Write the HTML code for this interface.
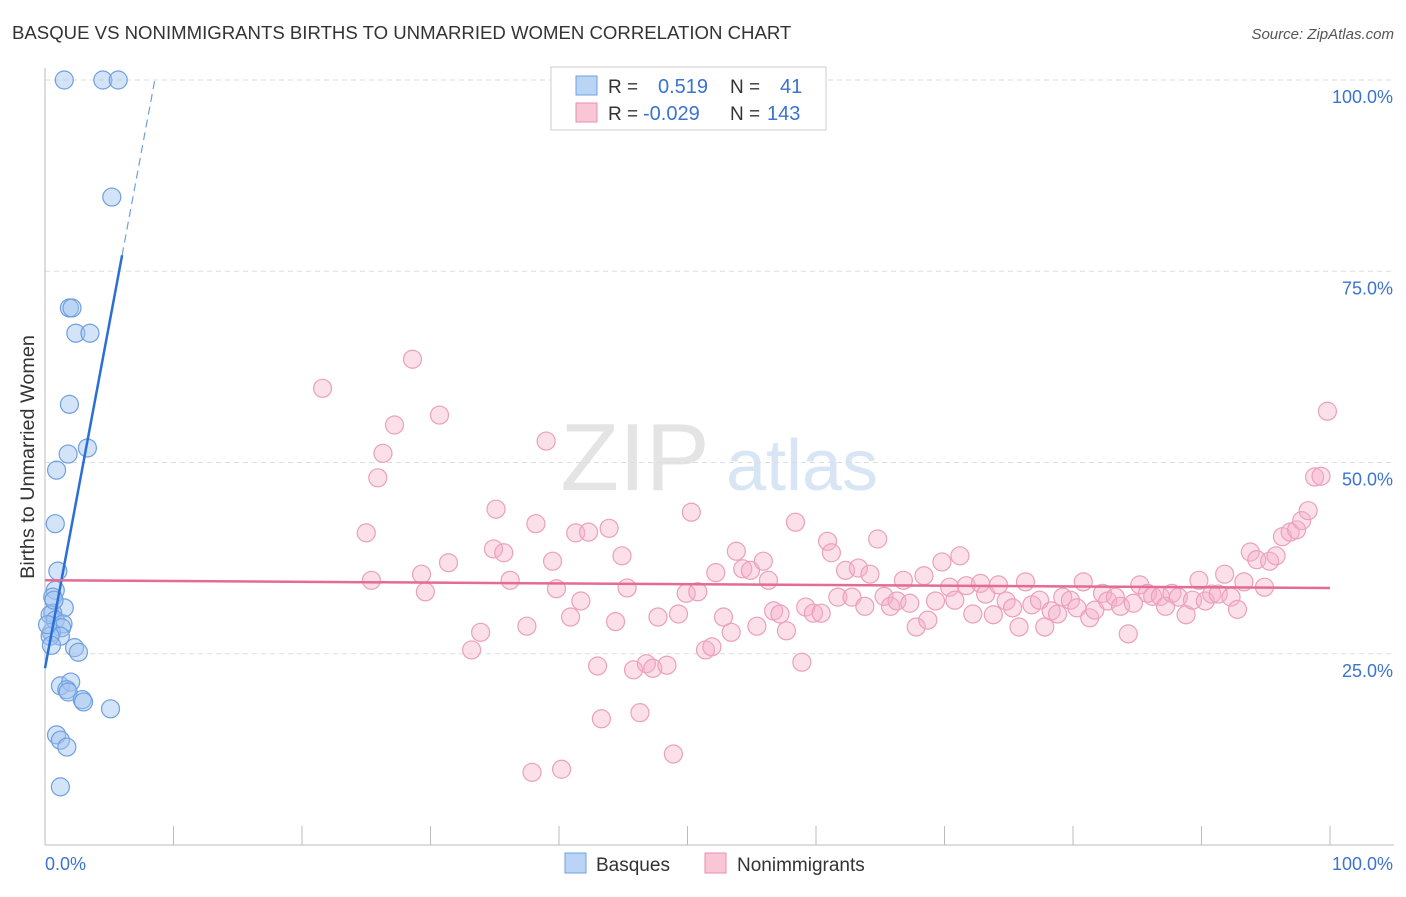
<!DOCTYPE html>
<html><head><meta charset="utf-8"><style>
body{margin:0;background:#fff;font-family:"Liberation Sans",sans-serif;}
svg text{font-family:"Liberation Sans",sans-serif;}
</style></head><body>
<svg id="chart" width="1406" height="892" xmlns="http://www.w3.org/2000/svg">
<text x="12" y="39" font-size="18.6" fill="#333">BASQUE VS NONIMMIGRANTS BIRTHS TO UNMARRIED WOMEN CORRELATION CHART</text>
<text x="1394" y="39" font-size="15" fill="#555" text-anchor="end" font-style="italic">Source: ZipAtlas.com</text>
<g>
<text x="635" y="490" font-size="96" fill="#e4e4e4" text-anchor="middle" font-family="Liberation Serif, serif">ZIP</text>
<text x="802" y="490" font-size="72" fill="#d7e5f5" text-anchor="middle">atlas</text>
</g>
<g id="grid"></g>
<g id="axes"></g>
<g id="marks"></g>
<g>
<rect x="551" y="67" width="275" height="63" fill="#fff" stroke="#ccc"/>
<rect x="576" y="76" width="21" height="19" fill="#b9d4f5" stroke="#6fa0e0"/>
<rect x="576" y="103" width="21" height="19" fill="#f9c6d6" stroke="#e98fae"/>
<text x="608" y="93" font-size="19" fill="#333">R =</text>
<text x="658" y="93" font-size="20" fill="#3b73d1">0.519</text>
<text x="730" y="93" font-size="19" fill="#333">N =</text>
<text x="780" y="93" font-size="20" fill="#3b73d1">41</text>
<text x="608" y="120" font-size="19" fill="#333">R =</text>
<text x="643" y="120" font-size="20" fill="#3b73d1">-0.029</text>
<text x="730" y="120" font-size="19" fill="#333">N =</text>
<text x="767" y="120" font-size="20" fill="#3b73d1">143</text>
</g>
<g>
<rect x="565" y="853" width="21" height="20" fill="#b9d4f5" stroke="#6fa0e0"/>
<text x="596" y="871" font-size="19" fill="#333">Basques</text>
<rect x="705" y="853" width="21" height="20" fill="#f9c6d6" stroke="#e98fae"/>
<text x="737" y="871" font-size="19" fill="#333">Nonimmigrants</text>
</g>
</svg>
<script>
const yTicks=[25,50,75,100];
const yTickLabels=["25.0%","50.0%","75.0%","100.0%"];
const xTicks=[10,20,30,40,50,60,70,80,90,100];
const blueX=[1.5,4.5,5.7,5.2,1.9,2.1,2.4,3.5,1.9,3.3,1.8,0.9,0.8,1.0,0.8,0.6,1.5,0.6,0.4,0.8,1.4,1.3,0.5,1.2,0.4,2.3,2.6,1.2,2.0,1.7,1.8,2.9,3.0,5.1,0.9,1.2,1.7,1.2,0.2,0.5,0.7];
const blueY=[100,100,100,84.7,70.2,70.2,66.9,66.9,57.6,51.9,51.1,49.0,42.0,35.8,33.3,32.4,31.0,30.3,30.1,29.4,28.9,28.4,27.8,27.3,27.3,25.8,25.2,20.8,21.3,20.3,20.0,19.0,18.7,17.8,14.4,13.7,12.8,7.6,28.8,26.1,32.0];
const pinkX=[21.6,28.6,30.7,27.2,26.3,25.9,39.0,25.0,35.1,38.2,25.4,29.3,29.6,31.4,34.9,35.7,36.2,33.2,33.9,37.5,39.5,39.8,41.7,41.3,42.3,43.9,44.9,45.3,40.9,44.4,43.0,45.8,46.8,47.3,48.4,43.3,46.3,48.9,37.9,40.2,47.7,49.3,49.9,50.3,51.4,51.9,50.8,52.2,52.8,53.4,53.8,54.3,54.9,55.4,55.9,56.3,56.7,57.2,57.7,58.4,58.9,59.2,59.8,60.4,60.9,61.2,61.7,62.3,62.8,63.3,63.8,64.2,64.8,65.3,65.8,66.3,66.8,67.3,67.8,68.4,68.7,69.3,69.8,70.4,70.8,71.2,71.7,72.2,72.8,73.2,73.8,74.2,74.8,75.3,75.8,76.3,76.8,77.4,77.8,78.3,78.8,79.2,79.8,80.3,80.8,81.3,81.7,82.3,82.7,83.3,83.7,84.3,84.7,85.2,85.8,86.2,86.8,87.2,87.7,88.2,88.8,89.3,89.8,90.3,90.8,91.3,91.8,92.3,92.8,93.3,93.8,94.3,94.9,95.3,95.8,96.3,96.9,97.4,97.8,98.3,98.8,99.3,99.8];
const pinkY=[59.7,63.5,56.2,54.9,51.2,48.0,52.8,40.8,43.9,42.0,34.6,35.4,33.1,36.9,38.7,38.2,34.6,25.5,27.8,28.6,37.1,33.5,31.9,40.8,40.9,41.4,37.8,33.6,29.8,29.2,23.4,22.9,23.7,23.1,23.5,16.5,17.3,11.9,9.5,9.9,29.8,30.2,32.9,43.5,25.5,25.9,33.1,35.6,29.8,27.8,38.4,36.1,35.9,28.6,37.1,34.6,30.6,30.2,28.0,42.2,23.9,31.1,30.3,30.3,39.7,38.2,32.4,35.9,32.4,36.2,31.2,35.4,40.0,32.5,31.2,31.9,34.6,31.6,28.5,35.2,29.4,31.9,37.0,33.7,32.0,37.8,33.9,30.2,34.2,32.8,30.1,34.0,31.9,31.0,28.5,34.4,31.4,32.0,28.5,30.6,30.2,32.4,32.0,31.0,34.4,29.7,30.7,32.9,31.9,32.4,31.2,27.6,31.6,34.0,32.9,32.5,32.5,31.2,32.9,32.4,30.1,32.0,34.6,31.9,32.8,32.8,35.4,32.4,30.8,34.4,38.3,37.3,33.7,37.1,37.8,40.3,40.9,41.2,42.4,43.7,48.1,48.2,56.7];
const blueTrend=[23.1,9.0]; // intercept, slope
const pinkTrend=[34.6,33.6]; // y at x=0, y at x=100
const NS="http://www.w3.org/2000/svg";
const X=v=>45+v*12.85, Y=v=>845-v*7.65;
function mk(tag,attrs,parent){const e=document.createElementNS(NS,tag);for(const k in attrs)e.setAttribute(k,attrs[k]);document.getElementById(parent).appendChild(e);return e;}
yTicks.forEach((t,i)=>{
 const g=mk('line',{x1:45,x2:1394,y1:Y(t),y2:Y(t),stroke:'#ddd','stroke-dasharray':'5,4'},'grid');
 
 
 const l=mk('text',{x:1393,y:Y(t)+23,'font-size':18,fill:'#3b73d1','text-anchor':'end'},'grid');
 l.textContent=yTickLabels[i];
 
 
});
const ax=mk('line',{x1:45,x2:45,y1:68,y2:845,stroke:'#bbb'},'axes');


const bx=mk('line',{x1:45,x2:1394,y1:845,y2:845,stroke:'#bbb'},'axes');


xTicks.forEach(t=>{const e=mk('line',{x1:X(t),x2:X(t),y1:826,y2:845,stroke:'#bbb'},'axes');
 
 });
const xl0=mk('text',{x:45,y:870,'font-size':18,fill:'#3b73d1'},'axes');xl0.textContent='0.0%';


const xl1=mk('text',{x:1393,y:870,'font-size':18,fill:'#3b73d1','text-anchor':'end'},'axes');xl1.textContent='100.0%';


const yt=mk('text',{x:34,y:457,'font-size':19.8,fill:'#333','text-anchor':'middle',transform:'rotate(-90 34 457)'},'axes');yt.textContent='Births to Unmarried Women';


pinkX.forEach((x,i)=>{const c=mk('circle',{cx:X(x),cy:Y(pinkY[i]),r:9,fill:'rgba(246,176,200,0.4)',stroke:'#eba0bb','stroke-width':1.2},'marks');
 
 });
blueX.forEach((x,i)=>{const c=mk('circle',{cx:X(x),cy:Y(blueY[i]),r:9,fill:'rgba(160,196,240,0.45)',stroke:'#6f9fe0','stroke-width':1.2},'marks');
 
 });
const xe=(77.1-blueTrend[0])/blueTrend[1], xd=(100-blueTrend[0])/blueTrend[1];
const b1=mk('line',{x1:X(0),y1:Y(blueTrend[0]),x2:X(xe),y2:Y(blueTrend[0]+blueTrend[1]*xe),stroke:'#2a6fd6','stroke-width':2.5},'marks');


const b2=mk('line',{x1:X(xe),y1:Y(blueTrend[0]+blueTrend[1]*xe),x2:X(xd),y2:Y(100),stroke:'#6f9fe0','stroke-width':1.2,'stroke-dasharray':'8,5'},'marks');


const p1=mk('line',{x1:X(0),y1:Y(pinkTrend[0]),x2:X(100),y2:Y(pinkTrend[1]),stroke:'#e46b93','stroke-width':2.5},'marks');


</script>
</body></html>
